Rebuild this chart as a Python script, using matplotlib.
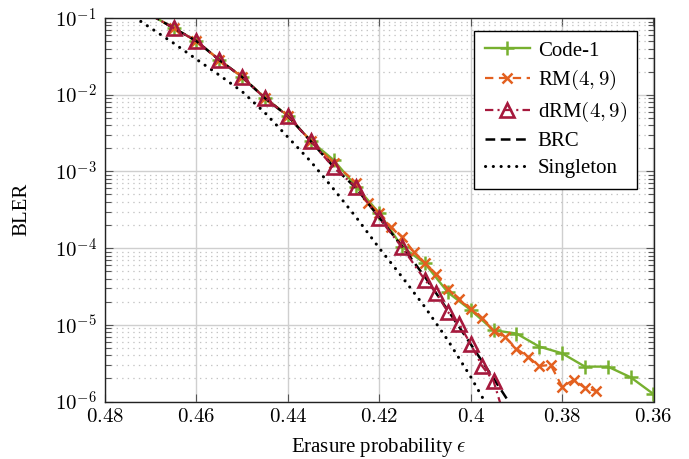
import matplotlib
matplotlib.use('Agg')
import matplotlib.pyplot as plt
import numpy as np
from matplotlib.ticker import LogLocator, NullLocator, NullFormatter, FixedLocator

# ---------------- data ----------------
eps_code1 = [0.47, 0.465, 0.46, 0.455, 0.45, 0.445, 0.44, 0.435, 0.43, 0.425, 0.42,
             0.415, 0.41, 0.405, 0.40, 0.395, 0.39, 0.385, 0.38, 0.375, 0.37, 0.365, 0.36]
bler_code1 = [1.1e-1, 7.4e-2, 5.0e-2, 2.85e-2, 1.7e-2, 9.1e-3, 5.3e-3, 2.5e-3, 1.41e-3, 6.3e-4, 2.85e-4,
              1.04e-4, 6.3e-5, 2.65e-5, 1.56e-5, 8.5e-6, 7.7e-6, 5.2e-6, 4.25e-6, 2.85e-6, 2.85e-6, 2.07e-6, 1.25e-6]

eps_rm = [0.47, 0.465, 0.46, 0.455, 0.45, 0.445, 0.44, 0.435, 0.43, 0.425, 0.4225, 0.42,
          0.4175, 0.415, 0.4125, 0.41, 0.4075, 0.405, 0.4025, 0.40, 0.3975, 0.395, 0.3925,
          0.39, 0.3875, 0.385, 0.3825, 0.38, 0.3775, 0.375, 0.3725]
bler_rm = [1.1e-1, 7.4e-2, 5.0e-2, 2.85e-2, 1.7e-2, 9.1e-3, 5.3e-3, 2.5e-3, 1.29e-3, 7.1e-4, 3.9e-4, 2.9e-4,
           1.9e-4, 1.41e-4, 9.0e-5, 6.3e-5, 4.55e-5, 2.9e-5, 2.2e-5, 1.59e-5, 1.23e-5, 8.3e-6, 6.9e-6,
           4.9e-6, 3.85e-6, 2.9e-6, 3.0e-6, 1.56e-6, 1.9e-6, 1.51e-6, 1.37e-6]

eps_drm = [0.47, 0.465, 0.46, 0.455, 0.45, 0.445, 0.44, 0.435, 0.43, 0.425, 0.42, 0.415,
           0.41, 0.4075, 0.405, 0.4025, 0.40, 0.3975, 0.395, 0.3925]
bler_drm = [1.1e-1, 7.4e-2, 5.0e-2, 2.83e-2, 1.7e-2, 9.0e-3, 5.26e-3, 2.48e-3, 1.13e-3, 6.2e-4, 2.45e-4, 1.02e-4,
            3.84e-5, 2.6e-5, 1.47e-5, 1.02e-5, 5.6e-6, 2.9e-6, 1.85e-6, 6.0e-7]

eps_brc = [0.47, 0.465, 0.46, 0.455, 0.45, 0.445, 0.44, 0.435, 0.43, 0.425, 0.42, 0.415,
           0.41, 0.405, 0.40, 0.395, 0.39]
bler_brc = [1.1e-1, 7.4e-2, 5.0e-2, 2.83e-2, 1.7e-2, 9.0e-3, 5.26e-3, 2.48e-3, 1.15e-3, 6.0e-4, 2.5e-4, 1.05e-4,
            4.2e-5, 1.55e-5, 5.6e-6, 2.0e-6, 7.0e-7]

eps_sing = [0.475, 0.47, 0.465, 0.46, 0.455, 0.45, 0.445, 0.44, 0.435, 0.43, 0.425, 0.42,
            0.415, 0.41, 0.405, 0.40, 0.395]
bler_sing = [1.17e-1, 7.4e-2, 4.7e-2, 2.9e-2, 1.8e-2, 1.1e-2, 5.8e-3, 2.8e-3, 1.35e-3, 5.9e-4, 2.5e-4, 1.0e-4,
             4.2e-5, 1.7e-5, 6.3e-6, 2.1e-6, 6.3e-7]

series_labels = ['Code-1', 'RM$(4,9)$', 'dRM$(4,9)$', 'BRC', 'Singleton']
x_ticks = [0.48, 0.46, 0.44, 0.42, 0.40, 0.38, 0.36]
x_ticklabels = ['$0.48$', '$0.46$', '$0.44$', '$0.42$', '$0.4$', '$0.38$', '$0.36$']
y_ticks = [1e-6, 1e-5, 1e-4, 1e-3, 1e-2, 1e-1]
y_ticklabels = ['$10^{-6}$', '$10^{-5}$', '$10^{-4}$', '$10^{-3}$', '$10^{-2}$', '$10^{-1}$']

# ---------------- style ----------------
plt.rcParams['font.family'] = ['Liberation Serif', 'DejaVu Serif']
plt.rcParams['mathtext.fontset'] = 'cm'
plt.rcParams['lines.scale_dashes'] = False
FS = 15
GREEN = '#77b02f'
ORANGE = '#e3601f'
CRIMSON = '#a6193d'

fig = plt.figure(figsize=(6.89, 4.59), dpi=100)
ax = fig.add_axes([105 / 689, 1 - 401.5 / 459, (653.5 - 105) / 689, (401.5 - 18) / 459])

ax.set_yscale('log')
ax.set_xlim(0.48, 0.36)
ax.set_ylim(1e-6, 1e-1)

ax.plot(eps_code1, bler_code1, color=GREEN, lw=1.7, marker='+', ms=10, mew=1.8,
        markevery=list(range(1, len(eps_code1))), label=series_labels[0], zorder=2.0)
ax.plot(eps_rm, bler_rm, color=ORANGE, lw=1.6, ls=(0, (6, 4)), marker='x', ms=7.5, mew=1.8,
        markevery=list(range(1, len(eps_rm))), label=series_labels[1], zorder=2.1)
ax.plot(eps_drm, bler_drm, color=CRIMSON, lw=1.6, ls=(0, (6, 3, 1.5, 3)), marker='^', ms=9.5,
        mfc='none', mew=1.9, markevery=list(range(1, len(eps_drm))), label=series_labels[2], zorder=2.3)
ax.plot(eps_brc, bler_brc, color='k', lw=1.8, ls=(0, (7, 4)), label=series_labels[3], zorder=2.2)
ax.plot(eps_sing, bler_sing, color='k', lw=2.2, ls=(0, (0.1, 5.5)), dash_capstyle='round',
        label=series_labels[4], zorder=2.2)

# ticks
ax.set_xticks(x_ticks)
ax.set_xticklabels(x_ticklabels, fontsize=FS)
ax.xaxis.set_minor_locator(NullLocator())
ax.yaxis.set_major_locator(FixedLocator(y_ticks))
ax.set_yticklabels(y_ticklabels, fontsize=FS)
ax.yaxis.set_minor_locator(LogLocator(base=10, subs=np.arange(2, 10)))
ax.yaxis.set_minor_formatter(NullFormatter())
ax.tick_params(which='both', direction='in', top=True, right=True, color='#555555', width=0.8)
ax.tick_params(which='major', length=6)
ax.tick_params(which='minor', length=4)
ax.tick_params(axis='x', which='major', pad=5)
ax.tick_params(axis='y', which='major', pad=6)

# grid
ax.grid(True, which='major', color='#cfcfcf', lw=1.0, ls='-')
ax.grid(True, which='minor', axis='y', color='#c4c4c4', lw=0.9, ls=(0, (1, 3)))
ax.set_axisbelow(True)

for sp in ax.spines.values():
    sp.set_linewidth(1.0)
    sp.set_color('#222222')

ax.set_xlabel('Erasure probability $\\epsilon$', fontsize=FS, labelpad=6)
ax.set_ylabel('BLER', fontsize=FS, labelpad=17)

leg = ax.legend(loc='upper right', bbox_to_anchor=(0.9705, 0.9669), borderaxespad=0,
                fontsize=FS, frameon=True, fancybox=False, edgecolor='k', framealpha=1,
                handlelength=2.2, handletextpad=0.35, labelspacing=0.36, borderpad=0.5)
leg.get_frame().set_linewidth(1.0)

fig.savefig('out.png', dpi=100)
